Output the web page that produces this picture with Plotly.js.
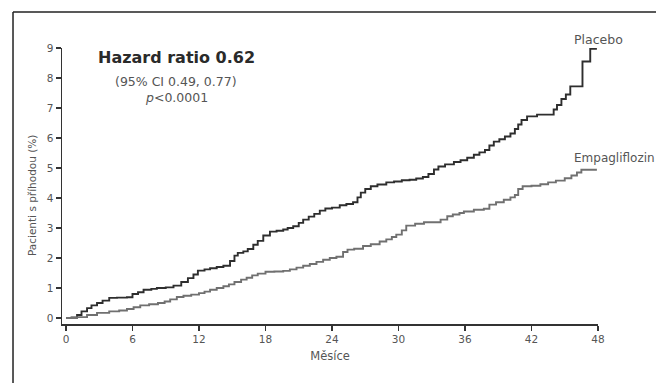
<!DOCTYPE html>
<html>
<head>
<meta charset="utf-8">
<script src="https://cdn.plot.ly/plotly-3.0.1.min.js"></script>
<style>html,body{margin:0;padding:0;background:#fff;}#chart{width:656px;height:383px;}</style>
</head>
<body>
<div id="chart"></div>
<script>
// Months and cumulative % of patients with event
const placeboMonths = [0,0.5,1.0,1.4,1.9,2.3,2.8,3.3,3.9,4.6,5.5,6.0,6.5,7.0,7.7,8.2,9.0,9.7,10.4,11.0,11.5,11.9,12.5,13.0,13.6,14.2,14.8,15.2,15.5,16.0,16.4,16.9,17.3,17.8,18.4,19.0,19.6,20.0,20.5,21.0,21.4,21.9,22.4,22.9,23.4,24.0,24.7,25.3,25.9,26.3,26.6,27.0,27.5,28.1,28.9,29.6,30.3,31.0,31.6,32.2,32.7,33.2,33.6,34.2,35.0,35.6,36.2,36.8,37.3,37.8,38.2,38.6,39.1,39.6,40.1,40.5,40.8,41.1,41.6,42.5,44.0,44.3,44.7,45.1,45.5,46.6,47.3,47.9];
const placeboPct    = [0,0.02,0.1,0.22,0.33,0.42,0.5,0.58,0.67,0.68,0.69,0.8,0.86,0.94,0.97,1.0,1.02,1.08,1.2,1.33,1.45,1.58,1.62,1.66,1.7,1.74,1.9,2.08,2.17,2.22,2.3,2.44,2.57,2.75,2.88,2.91,2.95,3.0,3.06,3.17,3.28,3.38,3.47,3.58,3.65,3.68,3.76,3.8,3.86,4.02,4.18,4.3,4.39,4.45,4.52,4.55,4.59,4.61,4.65,4.7,4.8,4.95,5.05,5.12,5.2,5.26,5.34,5.44,5.52,5.6,5.75,5.88,5.96,6.05,6.15,6.3,6.45,6.6,6.72,6.78,6.95,7.1,7.3,7.45,7.72,8.55,8.97,8.97];

const empaMonths = [0,1.0,1.9,2.8,3.9,4.8,5.5,6.1,6.7,7.5,8.3,8.9,9.4,10.0,10.6,11.3,12.0,12.5,13.0,13.6,14.2,14.7,15.2,15.8,16.3,16.8,17.3,18.0,18.8,19.6,20.2,20.8,21.4,22.0,22.6,23.2,23.8,24.4,25.0,25.4,26.0,26.8,27.5,28.3,28.9,29.4,29.8,30.3,30.7,31.5,32.3,33.8,34.4,34.9,35.5,35.9,36.8,37.7,38.2,38.8,39.5,40.1,40.5,40.8,41.2,42.0,42.8,43.5,44.2,45.0,45.6,46.1,46.5,47.9];
const empaPct    = [0,0.03,0.1,0.17,0.22,0.25,0.3,0.36,0.42,0.46,0.5,0.55,0.62,0.7,0.74,0.78,0.83,0.88,0.94,1.0,1.06,1.12,1.2,1.28,1.34,1.42,1.48,1.54,1.55,1.57,1.62,1.68,1.74,1.8,1.87,1.94,2.0,2.04,2.2,2.28,2.31,2.4,2.46,2.55,2.62,2.7,2.78,2.92,3.08,3.14,3.19,3.28,3.39,3.45,3.5,3.55,3.61,3.64,3.78,3.86,3.94,4.02,4.1,4.3,4.39,4.41,4.46,4.52,4.58,4.66,4.75,4.85,4.94,4.94];

const xTicks = [0,6,12,18,24,30,36,42,48];
const yTicks = [0,1,2,3,4,5,6,7,8,9];
const seriesNames = ["Placebo","Empagliflozin"];
const xTitle = "Měsíce";
const yTitle = "Pacienti s příhodou (%)";
const hrText = "Hazard ratio 0.62";
const ciText = "(95% CI 0.49, 0.77)";
const pText = "<i>p</i><0.0001";

const FONT = "DejaVu Sans, sans-serif";
const GRAY = "#555";

const traces = [
  {x: placeboMonths, y: placeboPct, name: seriesNames[0], mode: "lines",
   line: {shape: "hv", color: "#2e2e2e", width: 1.9}},
  {x: empaMonths, y: empaPct, name: seriesNames[1], mode: "lines",
   line: {shape: "hv", color: "#707070", width: 1.9}}
];

function note(x, y, text, size, color, xanchor, extra) {
  return Object.assign({xref: "paper", yref: "paper", x: x, y: y, text: text, showarrow: false,
    xanchor: xanchor || "center", yanchor: "middle",
    font: {family: FONT, size: size, color: color}}, extra || {});
}

const layout = {
  width: 656, height: 383,
  margin: {l: 62, r: 58, t: 48, b: 59},
  paper_bgcolor: "#fff", plot_bgcolor: "#fff",
  showlegend: false,
  font: {family: FONT, color: GRAY, size: 11},
  xaxis: {
    range: [-0.36, 48], tickvals: xTicks, ticktext: xTicks.map(String),
    showgrid: false, zeroline: false, showline: true, linecolor: "#333", linewidth: 1.5,
    ticks: "outside", ticklen: 5, tickwidth: 1.5, tickcolor: "#333",
    tickfont: {family: FONT, size: 10.5, color: GRAY},
    title: {text: xTitle, font: {family: FONT, size: 11.5, color: GRAY}, standoff: 8}
  },
  yaxis: {
    range: [-0.2, 9], tickvals: yTicks, ticktext: yTicks.map(String),
    showgrid: false, zeroline: false, showline: true, linecolor: "#333", linewidth: 1.5,
    ticks: "outside", ticklen: 5, tickwidth: 1.5, tickcolor: "#333",
    tickfont: {family: FONT, size: 10.5, color: GRAY}
  },
  shapes: [
    {type: "line", xref: "paper", yref: "paper", x0: -0.0914, x1: -0.0914, y0: -0.25, y1: 1.1304,
     line: {color: "#222", width: 1.5}},
    {type: "line", xref: "paper", yref: "paper", x0: -0.0914, x1: 1.12, y0: 1.1304, y1: 1.1304,
     line: {color: "#222", width: 1.5}}
  ],
  annotations: [
    note(-0.056, 0.467, yTitle, 10.5, GRAY, "center", {textangle: -90}),
    note(0.951, 1.029, seriesNames[0], 12.5, GRAY, "left"),
    note(0.951, 0.6014, seriesNames[1], 12, GRAY, "left"),
    note(0.2127, 0.9638, "<b>" + hrText + "</b>", 16, "#2a2a2a"),
    note(0.2127, 0.8786, ciText, 12.5, GRAY),
    note(0.2127, 0.8207, pText, 12.5, GRAY)
  ]
};

Plotly.newPlot("chart", traces, layout, {displayModeBar: false, staticPlot: true});
</script>
</body>
</html>
